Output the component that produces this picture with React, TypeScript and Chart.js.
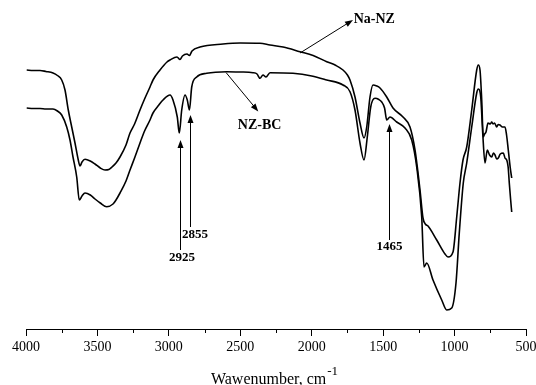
import React, { useEffect, useRef } from "react";
import { Chart, registerables } from "chart.js";

Chart.register(...registerables);

// ---- Data (wavenumber, cm-1  /  transmittance, arbitrary units) ----
const naNzWavenumber = [
  3995, 3950, 3902, 3860, 3811, 3780, 3750, 3727, 3704, 3680, 3657, 3634, 3622, 3608, 3587, 3550, 3517, 3480,
  3447, 3420, 3398, 3370, 3342, 3300, 3272, 3240, 3202, 3170, 3132, 3111, 3062, 3013, 2992, 2943, 2922, 2905,
  2873, 2856, 2838, 2782, 2621, 2500, 2362, 2292, 2200, 2082, 1990, 1895, 1830, 1781, 1750, 1732, 1697, 1662,
  1634, 1615, 1592, 1571, 1545, 1522, 1475, 1431, 1361, 1312, 1277, 1242, 1221, 1205, 1186, 1125, 1067, 1046,
  1011, 985, 962, 941, 915, 880, 845, 834, 822, 810, 799, 790, 780, 766, 750, 740, 731, 720, 705, 695, 682, 665,
  647, 636, 624, 610, 600,
];
const naNzTransmittance = [
  259, 258.5, 258.5, 257.5, 256, 253.5, 249, 239, 219, 202, 186, 169, 163, 167, 169.7, 168, 165, 161,
  159, 159.5, 162, 166, 172, 184, 196, 205, 219, 230, 242, 249, 259, 267, 269, 272, 269.5, 273,
  275, 273.5, 278, 282, 285, 286, 285.7, 284, 282, 277.3, 273.5, 267.3, 263.5, 259, 254, 249, 232, 206,
  191, 202, 232, 244, 243, 241, 232, 221, 212, 202, 179, 139, 111, 105, 103, 89, 75, 72,
  77, 112, 146, 169, 182, 219, 259, 264, 259, 229, 192, 195, 197, 206, 205, 207, 205, 206, 202, 204.5, 204, 202,
  202, 194, 179, 161, 151,
];

const nzBcWavenumber = [
  3995, 3950, 3902, 3860, 3811, 3780, 3750, 3715, 3692, 3671, 3645, 3627, 3608, 3587, 3550, 3517, 3480, 3435,
  3391, 3370, 3342, 3300, 3272, 3240, 3202, 3170, 3132, 3111, 3070, 3041, 2992, 2971, 2941, 2927, 2910, 2887,
  2871, 2856, 2840, 2805, 2735, 2595, 2500, 2411, 2383, 2362, 2341, 2320, 2292, 2131, 2000, 1895, 1781, 1732,
  1697, 1662, 1634, 1611, 1587, 1557, 1530, 1510, 1490, 1475, 1452, 1405, 1347, 1300, 1265, 1230, 1214, 1195,
  1151, 1090, 1055, 1020, 990, 967, 939, 915, 880, 845, 834, 817, 803, 787, 771, 755, 740, 728, 717, 705, 694,
  680, 659, 647, 635, 625, 617, 608, 600,
];
const nzBcTransmittance = [
  221, 220.5, 220.5, 220, 220, 218, 214, 202, 189, 172, 152, 129, 133, 136, 134, 130, 126, 122.3,
  125, 129, 136, 148, 159, 171, 186, 198, 209, 216, 224, 229, 234, 229, 212, 196, 219, 234,
  229, 219, 242, 252, 255.7, 257.3, 257, 256.3, 255, 250.7, 254, 252, 256.3, 255.7, 253, 249, 244, 237.3,
  219, 186, 169, 192, 222, 230.7, 229.5, 227, 221, 209, 212, 207, 201, 189, 162, 112, 62, 66,
  49, 29, 19, 21, 46, 96, 146, 166, 202, 236, 240, 232, 196, 166, 179, 174, 172, 176, 174, 170, 171,
  175, 176, 171, 169, 162, 146, 130, 117,
];

const seriesNames = ["Na-NZ", "NZ-BC"];
const majorTicks = [4000, 3500, 3000, 2500, 2000, 1500, 1000, 500];
const minorTicks = [3750, 3250, 2750, 2250, 1750, 1250, 750];
const axisTitle = "Wawenumber, cm";
const axisTitleSup = "-1";

// series labels with arrows: [wavenumber, value]
const seriesCallouts = [
  { text: "Na-NZ", from: [2082, 276], to: [1711, 309], label: [1706, 310], align: "left" },
  { text: "NZ-BC", from: [2600, 256.5], to: [2374, 217.5], label: [2365, 204], align: "center" },
];
// peak labels: wavenumber of arrow, tip value, tail value, label position
const peakCallouts = [
  { text: "2925", wn: 2922, tip: 189, tail: 79, label: [2908, 71] },
  { text: "2855", wn: 2852, tip: 214, tail: 102, label: [2817, 94] },
  { text: "1465", wn: 1462, tip: 205, tail: 89, label: [1456, 82] },
];

const SERIF = "'Liberation Serif', 'Times New Roman', Times, serif";

function drawArrow(ctx: CanvasRenderingContext2D, x1: number, y1: number, x2: number, y2: number) {
  const a = Math.atan2(y2 - y1, x2 - x1);
  const L = 8;
  const W = 3;
  ctx.beginPath();
  ctx.moveTo(x1, y1);
  ctx.lineTo(x2 - (L - 1) * Math.cos(a), y2 - (L - 1) * Math.sin(a));
  ctx.stroke();
  const bx = x2 - L * Math.cos(a);
  const by = y2 - L * Math.sin(a);
  ctx.beginPath();
  ctx.moveTo(x2, y2);
  ctx.lineTo(bx - W * Math.sin(a), by + W * Math.cos(a));
  ctx.lineTo(bx + W * Math.sin(a), by - W * Math.cos(a));
  ctx.closePath();
  ctx.fill();
}

const annotationPlugin = {
  id: "ftirAnnotations",
  afterDraw(chart: any) {
    const ctx = chart.ctx as CanvasRenderingContext2D;
    const xs = chart.scales.x;
    const ys = chart.scales.y;
    const px = (v: number) => xs.getPixelForValue(v);
    const py = (v: number) => ys.getPixelForValue(v);
    const area = chart.chartArea;
    ctx.save();
    ctx.strokeStyle = "#000";
    ctx.fillStyle = "#000";
    ctx.lineWidth = 1;

    // minor ticks
    minorTicks.forEach((v) => {
      const x = Math.round(px(v)) + 0.5;
      ctx.beginPath();
      ctx.moveTo(x, area.bottom);
      ctx.lineTo(x, area.bottom + 4);
      ctx.stroke();
    });

    // series callouts
    ctx.font = `bold 14px ${SERIF}`;
    ctx.textBaseline = "middle";
    seriesCallouts.forEach((c) => {
      drawArrow(ctx, px(c.from[0]), py(c.from[1]), px(c.to[0]), py(c.to[1]));
      ctx.textAlign = c.align as CanvasTextAlign;
      ctx.fillText(c.text, px(c.label[0]), py(c.label[1]));
    });

    // peak callouts
    ctx.font = `bold 13px ${SERIF}`;
    peakCallouts.forEach((c) => {
      const x = Math.round(px(c.wn)) + 0.5;
      drawArrow(ctx, x, py(c.tail), x, py(c.tip));
      ctx.textAlign = "center";
      ctx.fillText(c.text, px(c.label[0]), py(c.label[1]));
    });

    // axis title with superscript
    ctx.font = `16px ${SERIF}`;
    const w1 = ctx.measureText(axisTitle).width;
    ctx.font = `13px ${SERIF}`;
    const w2 = ctx.measureText(axisTitleSup).width;
    const cx = (area.left + area.right) / 2 - 2;
    const start = cx - (w1 + w2) / 2;
    ctx.textAlign = "left";
    ctx.textBaseline = "alphabetic";
    ctx.font = `16px ${SERIF}`;
    ctx.fillText(axisTitle, start, 384);
    ctx.font = `13px ${SERIF}`;
    ctx.fillText(axisTitleSup, start + w1 + 1, 375);
    ctx.restore();
  },
};

export default function App() {
  const ref = useRef<HTMLCanvasElement | null>(null);
  useEffect(() => {
    if (!ref.current) return;
    const chart = new Chart(ref.current, {
      type: "line",
      data: {
        datasets: [
          {
            label: seriesNames[0],
            data: naNzWavenumber.map((x, i) => ({ x, y: naNzTransmittance[i] })),
            borderColor: "#000",
            borderWidth: 1.6,
            pointRadius: 0,
            cubicInterpolationMode: "monotone",
            fill: false,
          },
          {
            label: seriesNames[1],
            data: nzBcWavenumber.map((x, i) => ({ x, y: nzBcTransmittance[i] })),
            borderColor: "#000",
            borderWidth: 1.6,
            pointRadius: 0,
            cubicInterpolationMode: "monotone",
            fill: false,
          },
        ],
      },
      options: {
        animation: false,
        responsive: false,
        devicePixelRatio: 1,
        layout: { padding: { left: 26, right: 10, top: 9, bottom: 0 } },
        plugins: { legend: { display: false }, tooltip: { enabled: false }, title: { display: false } },
        scales: {
          x: {
            type: "linear",
            position: "bottom",
            min: 500,
            max: 4000,
            reverse: true,
            afterBuildTicks: (s: any) => {
              s.ticks = majorTicks.map((v) => ({ value: v }));
            },
            afterFit: (s: any) => {
              s.height = 56;
              s.paddingLeft = 0;
              s.paddingRight = 0;
            },
            ticks: {
              color: "#000",
              padding: 3,
              maxRotation: 0,
              autoSkip: false,
              font: { family: SERIF, size: 14 },
              callback: (v: any) => String(v),
            },
            grid: {
              display: true,
              drawOnChartArea: false,
              drawTicks: true,
              tickLength: 7,
              color: "#000",
              lineWidth: 1,
            },
            border: { display: true, color: "#000", width: 1 },
          },
          y: {
            display: false,
            min: 0,
            max: 320,
          },
        },
      },
      plugins: [annotationPlugin],
    });
    return () => chart.destroy();
  }, []);
  return (
    <div style={{ position: "fixed", left: 0, top: 0, width: 536, height: 385, background: "#fff" }}>
      <canvas ref={ref} width={536} height={385} style={{ display: "block", width: 536, height: 385 }} />
    </div>
  );
}
